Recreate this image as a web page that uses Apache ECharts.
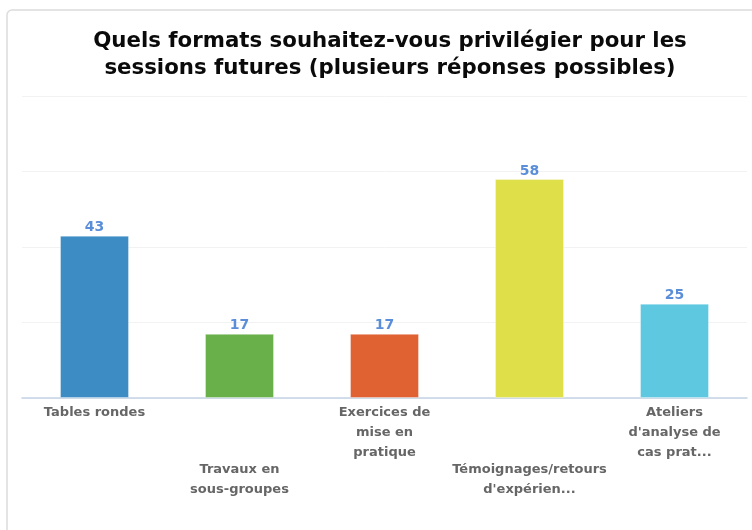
<!DOCTYPE html>
<html>
<head>
<meta charset="utf-8">
<script src="https://cdn.jsdelivr.net/npm/echarts@6/dist/echarts.min.js"></script>
<style>
  html, body { margin: 0; padding: 0; background: #fff; }
  #main { width: 752px; height: 530px; }
</style>
</head>
<body>
<div id="main"></div>
<script>
var categories = ['Tables rondes', 'Travaux en\nsous-groupes', 'Exercices de\nmise en\npratique', 'Témoignages/retours\nd\'expérien...', 'Ateliers\nd\'analyse de\ncas prat...'];
var values = [43, 17, 17, 58, 25];
var barColors = ['#3d8cc4', '#6ab04a', '#e06232', '#dfdf4a', '#5ec8e0'];

var chart = echarts.init(document.getElementById('main'));

var option = {
    animation: false,
    backgroundColor: '#fff',
    graphic: [{
        type: 'rect',
        shape: { x: 7, y: 10, width: 760, height: 540, r: 5 },
        style: { fill: 'none', stroke: '#dcdcdc', lineWidth: 1.5 },
        silent: true
    }],
    title: {
        text: 'Quels formats souhaitez-vous privilégier pour les\nsessions futures (plusieurs réponses possibles)',
        left: 385,
        top: 23,
        textAlign: 'center',
        textStyle: {
            fontFamily: 'DejaVu Sans',
            fontWeight: 'bold',
            fontSize: 21.3,
            lineHeight: 27,
            color: '#0a0a0a'
        }
    },
    grid: {
        left: 22,
        right: 5,
        top: 96,
        bottom: 132
    },
    xAxis: {
        type: 'category',
        data: categories,
        axisLine: { lineStyle: { color: '#c3d3e6', width: 1.5 } },
        axisTick: { length: 7, lineStyle: { color: '#c3d3e6' } },
        axisLabel: {
            interval: 0,
            margin: 5,
            formatter: function(value, index) {
                var lines = value.split('\n').map(function(s) { return '{a|' + s + '}'; });
                if (index % 2 === 1) lines.unshift('{g|}');
                return lines.join('\n');
            },
            rich: {
                a: {
                    fontFamily: 'DejaVu Sans',
                    fontWeight: 'bold',
                    fontSize: 13,
                    lineHeight: 20,
                    color: '#666'
                },
                g: { height: 57, lineHeight: 57 }
            }
        }
    },
    yAxis: {
        type: 'value',
        min: 0,
        max: 80,
        interval: 20,
        axisLabel: { show: false },
        axisLine: { show: false },
        axisTick: { show: false },
        splitLine: { lineStyle: { color: '#f2f2f2' } }
    },
    series: [{
        type: 'bar',
        barWidth: 69,
        data: values.map(function(v, i) {
            return {
                value: v,
                itemStyle: { color: barColors[i], borderColor: 'rgba(255,255,255,0.35)', borderWidth: 1 }
            };
        }),
        label: {
            show: true,
            position: 'top',
            distance: 1,
            fontFamily: 'DejaVu Sans',
            fontWeight: 'bold',
            fontSize: 14,
            color: '#5b8ed8'
        }
    }]
};

chart.setOption(option);
</script>
</body>
</html>
